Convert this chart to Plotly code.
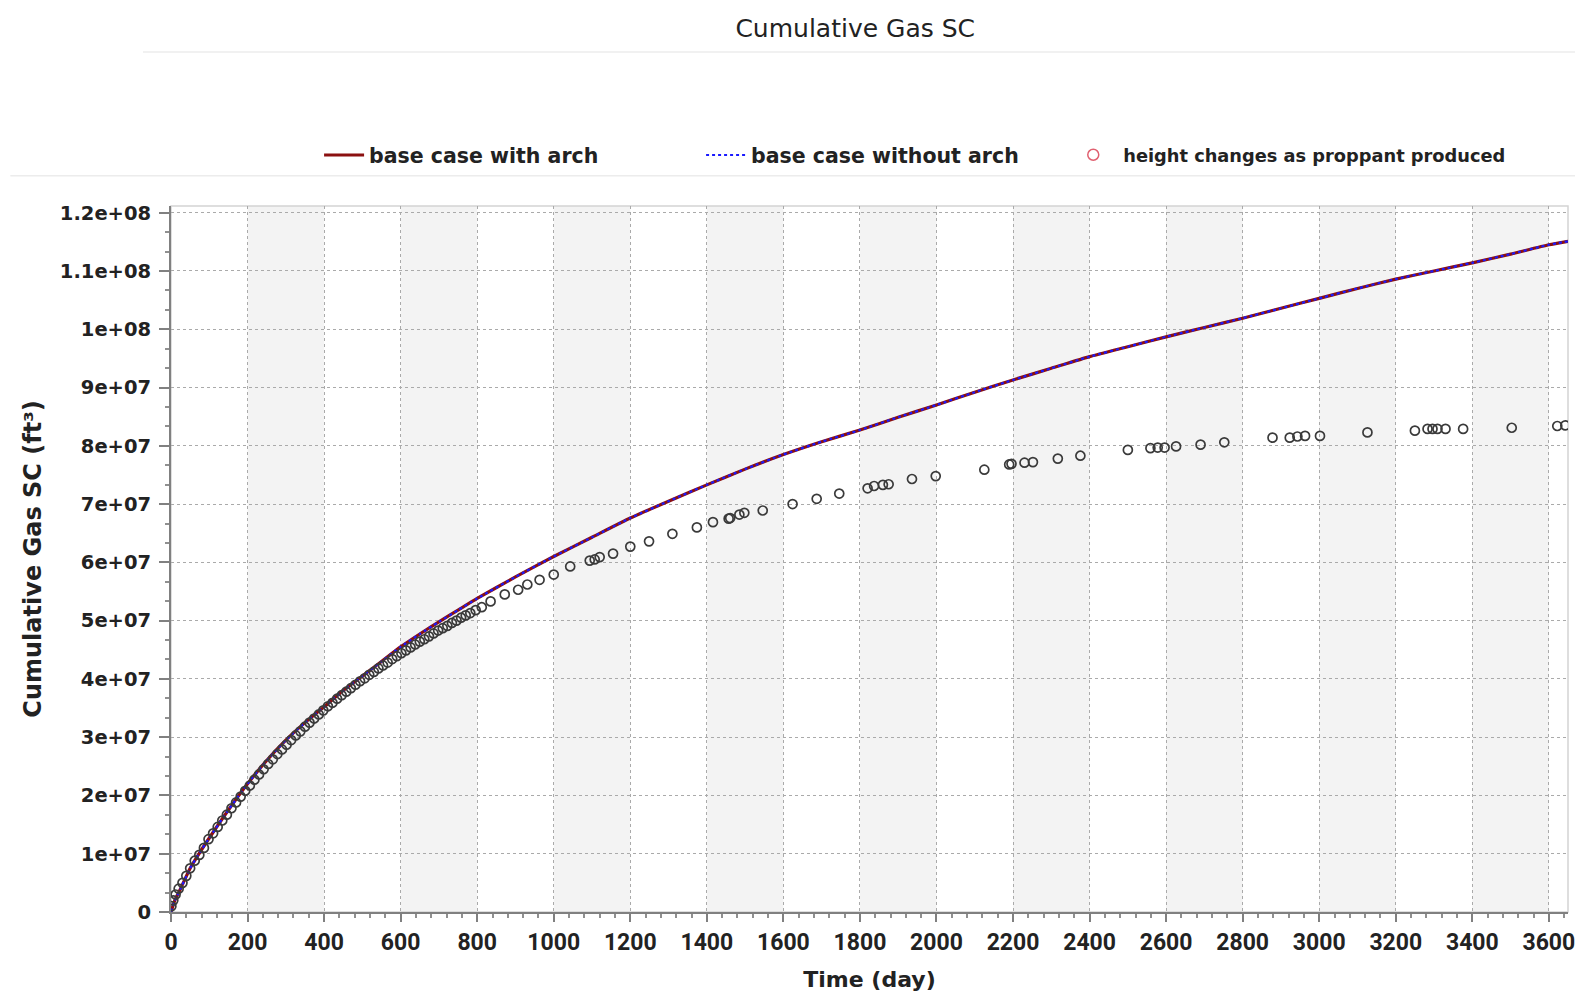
import plotly.graph_objects as go

# ---------------- data ----------------
time_line = [0, 10, 25, 50, 75, 100, 150, 200, 250, 300, 350, 400, 450, 500, 550, 600,
             650, 700, 750, 800, 900, 1000, 1100, 1200, 1300, 1400, 1500, 1600, 1700,
             1800, 1900, 2000, 2100, 2200, 2300, 2400, 2500, 2600, 2700, 2800, 2900,
             3000, 3100, 3200, 3300, 3400, 3500, 3600, 3650]
gas_with_arch = [0.0, 0.20e7, 0.40e7, 0.75e7, 1.02e7, 1.27e7, 1.75e7, 2.20e7, 2.60e7,
                 2.95e7, 3.25e7, 3.52e7, 3.80e7, 4.05e7, 4.30e7, 4.55e7, 4.77e7, 4.98e7,
                 5.18e7, 5.38e7, 5.75e7, 6.10e7, 6.43e7, 6.76e7, 7.05e7, 7.33e7, 7.60e7,
                 7.85e7, 8.07e7, 8.27e7, 8.49e7, 8.70e7, 8.92e7, 9.13e7, 9.33e7, 9.53e7,
                 9.70e7, 9.87e7, 10.03e7, 10.19e7, 10.36e7, 10.53e7, 10.70e7, 10.86e7,
                 11.00e7, 11.14e7, 11.29e7, 11.45e7, 11.51e7]
gas_without_arch = [0.0, 0.20e7, 0.40e7, 0.75e7, 1.02e7, 1.27e7, 1.75e7, 2.20e7, 2.60e7,
                    2.95e7, 3.25e7, 3.52e7, 3.80e7, 4.05e7, 4.30e7, 4.55e7, 4.77e7, 4.98e7,
                    5.18e7, 5.38e7, 5.75e7, 6.10e7, 6.43e7, 6.76e7, 7.05e7, 7.33e7, 7.60e7,
                    7.85e7, 8.07e7, 8.27e7, 8.49e7, 8.70e7, 8.92e7, 9.13e7, 9.33e7, 9.53e7,
                    9.70e7, 9.87e7, 10.03e7, 10.19e7, 10.36e7, 10.53e7, 10.70e7, 10.86e7,
                    11.00e7, 11.14e7, 11.29e7, 11.45e7, 11.51e7]

time_proppant = [1, 6, 12, 20, 30, 40, 50, 62, 74, 86, 98, 110, 122, 134, 146, 158, 170,
                 182, 194, 206, 218, 230, 242, 254, 266, 278, 290, 302, 314, 326, 338, 350,
                 362, 374, 386, 398, 410, 422, 434, 446, 458, 470, 482, 494, 506, 518, 530,
                 542, 554, 566, 578, 590, 602, 614, 626, 638, 650, 662, 674, 686, 698, 710,
                 722, 734, 746, 758, 770, 782, 796, 812,
                 835, 872, 907, 931, 963, 1000, 1043, 1094, 1107, 1120, 1155, 1200, 1249,
                 1310, 1374, 1416, 1457, 1461, 1485, 1498, 1546, 1624, 1687, 1746, 1820,
                 1837, 1860, 1875, 1936, 1998, 2125, 2190, 2196, 2230, 2252, 2317, 2376,
                 2500, 2559, 2578, 2596, 2626, 2690, 2752, 2878, 2923, 2943, 2963, 3002,
                 3126, 3250, 3283, 3296, 3309, 3330, 3376, 3503, 3622, 3643]
gas_proppant = [0.10e7, 0.20e7, 0.30e7, 0.40e7, 0.50e7, 0.62e7, 0.75e7, 0.88e7, 0.98e7,
                1.10e7, 1.25e7, 1.35e7, 1.46e7, 1.57e7, 1.67e7, 1.78e7, 1.88e7, 1.98e7,
                2.08e7, 2.17e7, 2.27e7, 2.36e7, 2.45e7, 2.54e7, 2.62e7, 2.71e7, 2.79e7,
                2.87e7, 2.95e7, 3.03e7, 3.10e7, 3.18e7, 3.25e7, 3.32e7, 3.39e7, 3.46e7,
                3.53e7, 3.59e7, 3.66e7, 3.72e7, 3.78e7, 3.84e7, 3.90e7, 3.96e7, 4.01e7,
                4.07e7, 4.12e7, 4.18e7, 4.23e7, 4.28e7, 4.34e7, 4.39e7, 4.44e7, 4.49e7,
                4.54e7, 4.59e7, 4.64e7, 4.68e7, 4.73e7, 4.78e7, 4.83e7, 4.87e7, 4.91e7,
                4.96e7, 5.00e7, 5.05e7, 5.09e7, 5.13e7, 5.18e7, 5.23e7,
                5.33e7, 5.45e7, 5.53e7, 5.62e7, 5.70e7, 5.79e7, 5.93e7, 6.03e7, 6.05e7,
                6.09e7, 6.15e7, 6.27e7, 6.36e7, 6.49e7, 6.60e7, 6.69e7, 6.75e7, 6.76e7,
                6.82e7, 6.85e7, 6.89e7, 7.00e7, 7.09e7, 7.18e7, 7.27e7, 7.31e7, 7.33e7,
                7.34e7, 7.43e7, 7.48e7, 7.59e7, 7.68e7, 7.69e7, 7.71e7, 7.72e7, 7.78e7,
                7.83e7, 7.93e7, 7.96e7, 7.97e7, 7.97e7, 7.99e7, 8.02e7, 8.06e7, 8.14e7,
                8.14e7, 8.16e7, 8.17e7, 8.17e7, 8.23e7, 8.26e7, 8.29e7, 8.29e7, 8.29e7,
                8.29e7, 8.29e7, 8.31e7, 8.34e7, 8.35e7]

x_tick_vals = list(range(0, 3601, 200))
x_tick_text = [str(v) for v in x_tick_vals]
y_tick_vals = [0, 1e7, 2e7, 3e7, 4e7, 5e7, 6e7, 7e7, 8e7, 9e7, 1e8, 1.1e8, 1.2e8]
y_tick_text = ["0", "1e+07", "2e+07", "3e+07", "4e+07", "5e+07", "6e+07", "7e+07",
               "8e+07", "9e+07", "1e+08", "1.1e+08", "1.2e+08"]

# ---------------- figure ----------------
FONT = "DejaVu Sans"
TXT = "#222222"
fig = go.Figure()

fig.add_trace(go.Scatter(
    x=time_line, y=gas_with_arch, mode="lines", name="base case with arch",
    line=dict(color="#8b1010", width=3.2, shape="spline", smoothing=0.5)))
fig.add_trace(go.Scatter(
    x=time_line, y=gas_without_arch, mode="lines", name="base case without arch",
    line=dict(color="#1a1aff", width=2.2, dash="dot", shape="spline", smoothing=0.5)))
fig.add_trace(go.Scatter(
    x=time_proppant, y=gas_proppant, mode="markers", showlegend=False,
    marker=dict(symbol="circle-open", size=9, color="#3a3a3a", line=dict(width=1.7))))
fig.add_trace(go.Scatter(
    x=[None], y=[None], mode="markers", legend="legend2",
    name="height changes as proppant produced",
    marker=dict(symbol="circle-open", size=11, color="#e06070", line=dict(width=1.5))))

# alternating shaded bands between every other pair of x ticks
shapes = []
for i in range(1, len(x_tick_vals) - 1, 2):
    shapes.append(dict(type="rect", xref="x", yref="paper",
                       x0=x_tick_vals[i], x1=x_tick_vals[i + 1], y0=0, y1=1,
                       fillcolor="#f3f3f3", line=dict(width=0), layer="below"))
# light frame around plot area
shapes.append(dict(type="rect", xref="paper", yref="paper", x0=0, x1=1, y0=0, y1=1,
                   line=dict(color="#d4d4d4", width=1.5), layer="below"))
# faint separator lines (title box / legend strip)
shapes.append(dict(type="line", xref="paper", yref="paper", x0=-0.02, x1=1.01,
                   y0=1.218, y1=1.218, line=dict(color="#ececec", width=1.5)))
shapes.append(dict(type="line", xref="paper", yref="paper", x0=-0.115, x1=1.01,
                   y0=1.043, y1=1.043, line=dict(color="#ececec", width=1.5)))

fig.update_layout(
    width=1575, height=996,
    margin=dict(l=171, r=7, t=206, b=84, autoexpand=False),
    paper_bgcolor="white", plot_bgcolor="white",
    shapes=shapes,
    title=dict(text="Cumulative Gas SC", xref="container", yref="container",
               x=0.543, y=0.972, xanchor="center", yanchor="middle",
               font=dict(family=FONT, size=25, color=TXT)),
    legend=dict(orientation="h", xref="paper", yref="paper", x=0.106, y=1.072,
                xanchor="left", yanchor="middle", entrywidth=327, entrywidthmode="pixels",
                font=dict(family=FONT, size=20.5, color=TXT, weight="bold"),
                bgcolor="rgba(0,0,0,0)", itemwidth=40),
    legend2=dict(orientation="h", xref="paper", yref="paper", x=0.6387, y=1.072,
                 xanchor="left", yanchor="middle",
                 font=dict(family=FONT, size=17.8, color=TXT, weight="bold"),
                 bgcolor="rgba(0,0,0,0)", itemwidth=50),
    showlegend=True,
)

fig.update_xaxes(
    range=[0, 3650], tickvals=x_tick_vals, ticktext=x_tick_text,
    automargin=False,
    showline=True, linecolor="#808080", linewidth=2,
    ticks="outside", ticklen=8, tickwidth=1.5, tickcolor="#808080",
    tickfont=dict(family="Roboto", size=23, color=TXT, weight="bold"),
    ticklabeloverflow="allow",
    showgrid=True, gridcolor="#aaaaaa", griddash="dot", gridwidth=1,
    minor=dict(dtick=40, ticks="outside", ticklen=4, tickcolor="#909090", showgrid=False),
    zeroline=False,
    title=dict(text="Time (day)", standoff=17,
               font=dict(family=FONT, size=22, color=TXT, weight="bold")),
)
fig.update_yaxes(
    range=[0, 1.2115e8], tickvals=y_tick_vals, ticktext=y_tick_text,
    automargin=False,
    showline=True, linecolor="#808080", linewidth=2,
    ticks="outside", ticklen=10, tickwidth=1.5, tickcolor="#808080",
    ticklabelstandoff=4,
    tickfont=dict(family=FONT, size=19.5, color=TXT, weight="bold"),
    showgrid=True, gridcolor="#aaaaaa", griddash="dot", gridwidth=1,
    minor=dict(dtick=1e7 / 3, ticks="outside", ticklen=4, tickcolor="#909090", showgrid=False),
    zeroline=False,
    title=dict(text="Cumulative Gas SC (ft³)", standoff=11,
               font=dict(family=FONT, size=24, color=TXT, weight="bold")),
)

fig.write_html("out.html")
